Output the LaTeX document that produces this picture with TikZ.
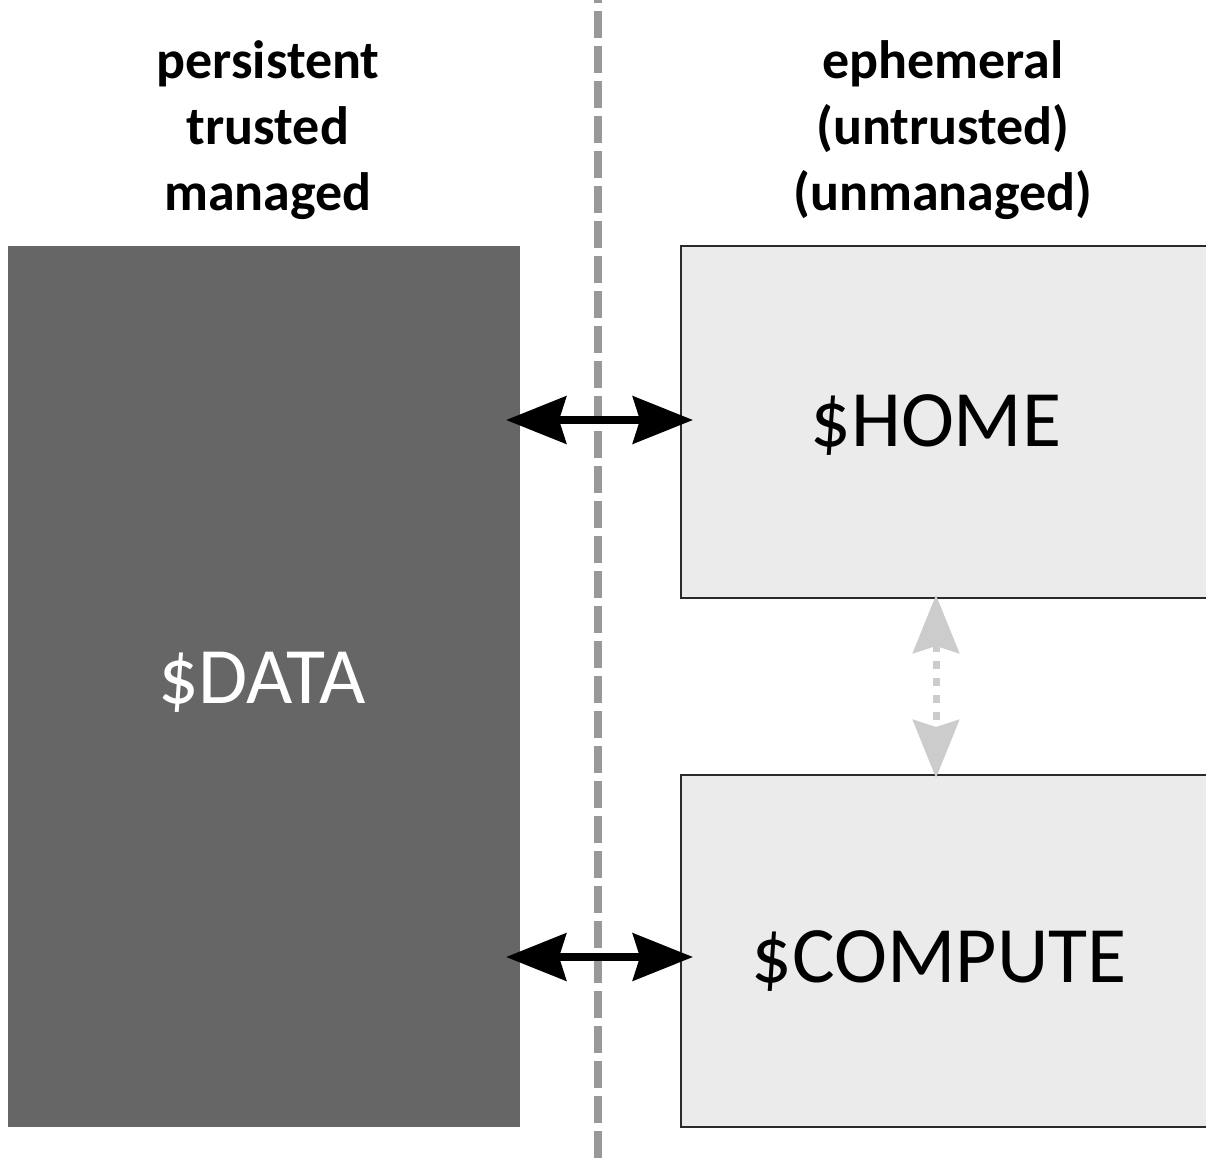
\documentclass[tikz,border=0pt]{standalone}
\usepackage{fontspec}
\setmainfont{Carlito}
\usetikzlibrary{arrows.meta}
\definecolor{darkbox}{HTML}{666666}
\definecolor{lightbox}{HTML}{EBEBEB}
\definecolor{boxline}{HTML}{2A2A2A}
\definecolor{divider}{HTML}{999999}
\definecolor{softarrow}{HTML}{CCCCCC}
\tikzset{
  databox/.style={draw=none, fill=darkbox, minimum width=512pt, minimum height=881pt, anchor=north west, inner sep=0pt, outer sep=0pt},
  zonebox/.style={draw=boxline, line width=1.5pt, fill=lightbox, minimum width=560pt, minimum height=352pt, anchor=north west, inner sep=0pt, outer sep=0pt},
  biglabel/.style={font=\fontsize{80}{86}\selectfont, anchor=base, inner sep=0pt},
  header/.style={font=\fontsize{54}{66}\selectfont\bfseries, align=center, anchor=north, inner sep=0pt},
  divline/.style={draw=divider, line width=8pt, dash pattern=on 27pt off 8pt, dash phase=-11pt},
  linkarrow/.style={draw=black, line width=8pt, {Stealth[length=60pt,width=47pt,inset=7pt]}-{Stealth[length=60pt,width=47pt,inset=7pt]}},
  softlink/.style={draw=softarrow, line width=7pt, dash pattern=on 8pt off 9pt, {Stealth[length=58pt,width=46pt,inset=7pt]}-{Stealth[length=58pt,width=46pt,inset=7pt]}}
}
\begin{document}
\begin{tikzpicture}[x=1pt,y=-1pt]
\clip (0,0) rectangle (1206,1158);
\fill[white] (0,0) rectangle (1206,1158);
% boxes
\node[databox] (data) at (8,246) {};
\node[zonebox] (home) at (681,246) {};
\node[zonebox] (compute) at (681,775) {};
% labels
\node[biglabel, text=white] (datalbl) at (262,703) {\$DATA};
\node[biglabel] (homelbl) at (936,446) {\$HOME};
\node[biglabel] (computelbl) at (939,982) {\$COMPUTE};
% headers
\node[header] (lefthead) at (268,40) {persistent\\trusted\\managed};
\node[header] (righthead) at (943,40) {ephemeral\\(untrusted)\\(unmanaged)};
% divider
\coordinate (dtop) at (598,0);
\coordinate (dbot) at (598,1158);
\draw[divline] (dtop) -- (dbot);
% arrows
\draw[linkarrow] ([xshift=-14pt,yshift=2pt]data.east |- home.center) -- ([xshift=12pt,yshift=2pt]home.west);
\draw[linkarrow] ([xshift=-14pt,yshift=-6pt]data.east |- compute.center) -- ([xshift=12pt,yshift=-6pt]compute.west);
\coordinate (hs) at (936,595);
\coordinate (cn) at (936,778);
\draw[softlink] (hs) -- (cn);
\end{tikzpicture}
\end{document}
